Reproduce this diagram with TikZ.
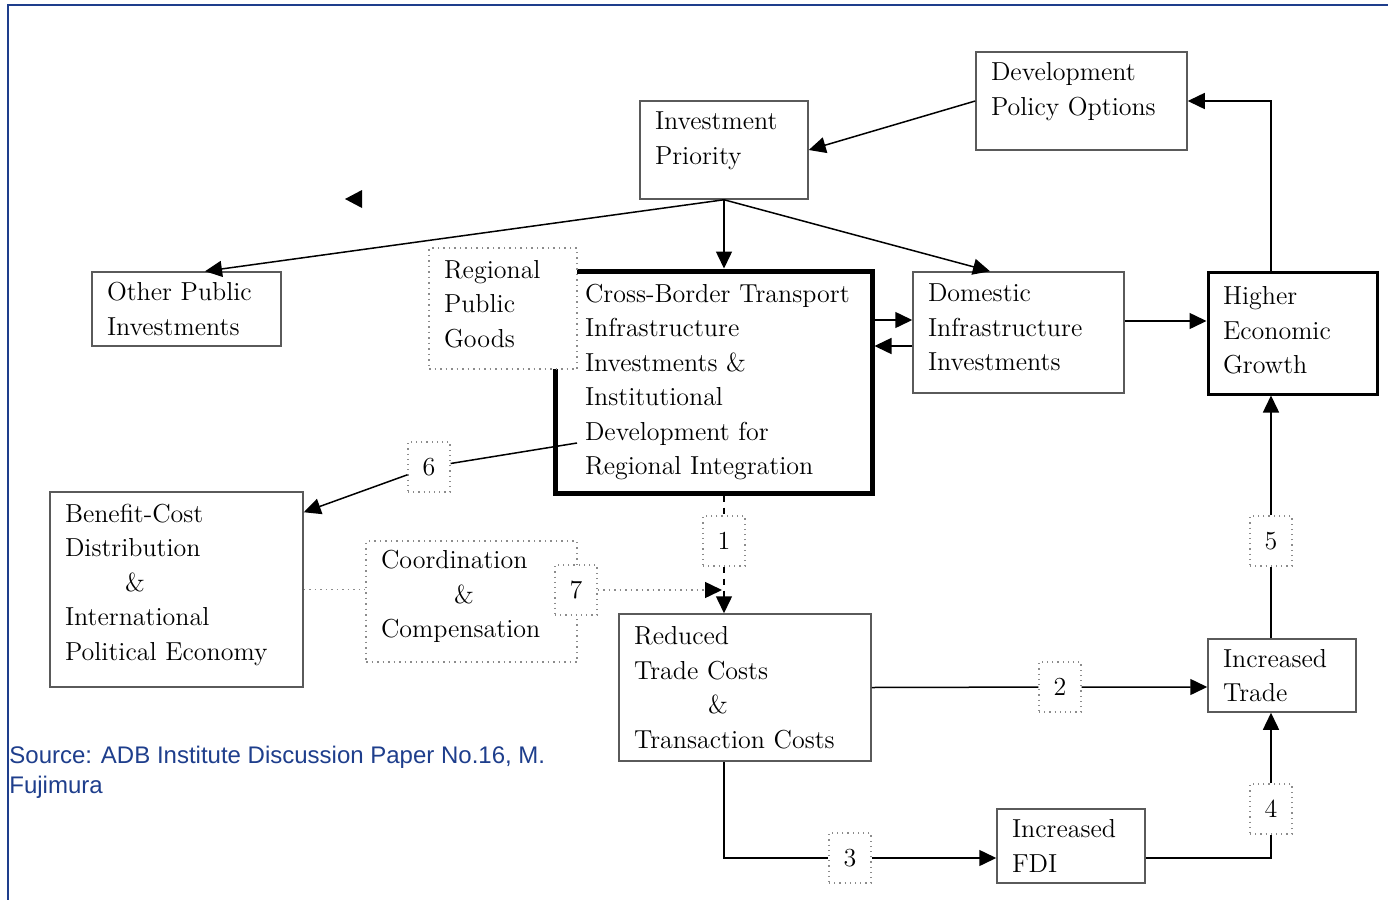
\documentclass[tikz,border=0pt]{standalone}
\usepackage{fontspec}
\newfontfamily\srcfont{Liberation Sans}
\usepackage{tikz}
\usetikzlibrary{arrows.meta,calc}
\definecolor{framecol}{RGB}{30,62,140}
\definecolor{boxgray}{RGB}{90,90,90}
\definecolor{dotgray}{RGB}{140,140,140}
\newcommand{\boxfont}{\fontsize{13}{17.25}\selectfont}
\newcommand{\boxlift}[1]{\rule[-#1]{0pt}{#1}}
\tikzset{
  box/.style={draw=boxgray,line width=0.75pt,fill=white,align=left,inner xsep=7.5pt,inner ysep=0pt,font=\boxfont},
  thickbox/.style={box,draw=black,line width=2.5pt,inner xsep=15pt},
  dotbox/.style={box,draw=dotgray,dotted,line width=0.6pt},
  numbox/.style={draw=dotgray,dotted,line width=0.6pt,fill=white,minimum width=21pt,minimum height=25pt,inner sep=0pt,font=\boxfont},
  conn/.style={line width=0.75pt,black},
  dotconn/.style={dotgray,dotted,line width=0.75pt},
  >={Triangle[length=8.5pt,width=8pt]}
}

\begin{document}
\begin{tikzpicture}[x=0.5pt,y=-0.5pt]
\useasboundingbox (0,0) rectangle (1388,900);
\draw[framecol,line width=1.2pt] (8,900) -- (8,5) -- (1388,5);
\node[box,text width=69pt,minimum height=49pt] (ip) at (724,150) {Investment\\Priority\boxlift{12pt}};
\node[box,text width=90.5pt,minimum height=49pt] (dp) at (1081.5,101) {Development\\Policy Options\boxlift{12pt}};
\node[box,text width=79.5pt,minimum height=37pt] (op) at (186.5,309) {Other Public\\Investments};
\node[thickbox,text width=128.5pt,minimum height=111pt] (cb) at (713.5,382) {\mbox{Cross-Border Transport}\\Infrastructure\\Investments \&\\Institutional\\Development for\\Regional Integration};
\node[dotbox,text width=59pt,minimum height=60.5pt] (rpg) at (503,308.5) {Regional\\Public\\Goods\boxlift{5pt}};
\node[box,text width=90.5pt,minimum height=60.5pt] (di) at (1018.5,332.5) {Domestic\\Infrastructure\\Investments\boxlift{5pt}};
\node[box,draw=black,line width=1.5pt,text width=69.5pt,minimum height=61pt] (hg) at (1292.5,333) {Higher\\Economic\\Growth\boxlift{3pt}};
\node[box,text width=111.5pt,minimum height=97.5pt] (bc) at (176.5,589.5) {Benefit-Cost\\Distribution\\\hspace*{30pt}\&\\International\\Political Economy\boxlift{7.5pt}};
\node[dotbox,text width=90.5pt,minimum height=60.5pt] (cc) at (471.5,601.5) {Coordination\\\hspace*{36.5pt}\&\\Compensation\boxlift{7.5pt}};
\node[box,text width=111pt,minimum height=73.5pt] (rc) at (745,687.5) {Reduced\\Trade Costs\\\hspace*{37pt}\&\\Transaction Costs};
\node[box,text width=59pt,minimum height=36.5pt] (it) at (1282,675.5) {Increased\\Trade};
\node[box,text width=59pt,minimum height=37pt] (fdi) at (1071,846) {Increased\\FDI};
\node[numbox] (l1) at (724,541) {1};
\node[numbox] (l2) at (1060,687) {2};
\node[numbox] (l3) at (850,858) {3};
\node[numbox] (l4) at (1271,809) {4};
\node[numbox] (l5) at (1271,541) {5};
\node[numbox] (l6) at (429,467) {6};
\node[numbox] (l7) at (576,590) {7};
\coordinate (c6) at (577,443);
\coordinate (c7) at (722,590);
\fill (362,190) -- (345,199) -- (362,208) -- cycle;
\draw[conn,->] (dp.west) -- (ip.east);
\draw[conn,->] (ip.south) -- (op.north -| 205,0);
\draw[conn,->] (ip.south) -- (cb.north -| ip.south);
\draw[conn,->] (ip.south) -- (di.north -| 990,0);
\draw[conn,->] (cb.east |- 0,320) -- (di.west |- 0,320);
\draw[conn,->] (di.west |- 0,346) -- (cb.east |- 0,346);
\draw[conn,->] (di.east |- 0,321) -- (hg.west |- 0,321);
\draw[conn,->] (hg.north -| l5) |- (dp.east);
\draw[conn,->] (it.north -| l5) -- (l5) -- (hg.south -| l5);
\draw[conn,->] (rc.east) -- (l2) -- (it.west |- l2);
\draw[conn,->] (rc.south -| l1) |- (l3) -- (fdi.west |- l3);
\draw[conn,->] (fdi.east |- l3) -| (l4) -- (it.south -| l4);
\draw[conn,dashed,->] (cb.south -| l1) -- (l1) -- (rc.north -| l1);
\draw[conn,->] (c6) -- (l6) -- ($(bc.north east)+(0,21)$);
\draw[dotconn] (bc.east) -- (cc.west |- bc.east);
\draw[dotconn,-{Triangle[length=8.5pt,width=8pt,color=black]}] (l7) -- (c7);
\node[font=\srcfont\fontsize{12}{15}\selectfont,text=framecol,align=left,anchor=north west,inner sep=0pt] (src) at (9,746) {Source: ADB Institute Discussion Paper No.16, M.\\Fujimura};
\end{tikzpicture}
\end{document}
